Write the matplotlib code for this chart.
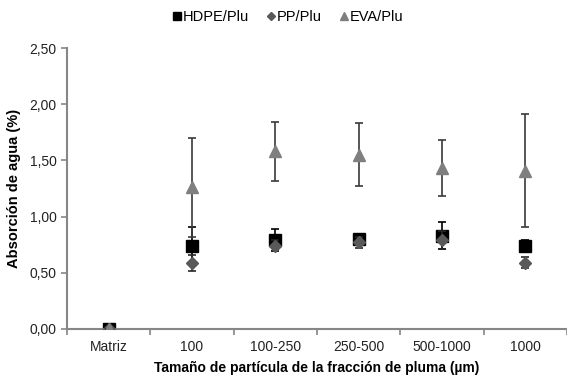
import matplotlib.pyplot as plt
import numpy as np

plt.rcParams['font.family'] = ['Liberation Sans', 'DejaVu Sans']

# Datos
categorias = ['Matriz', '100', '100-250', '250-500', '500-1000', '1000']
hdpe = [0.00, 0.74, 0.79, 0.80, 0.83, 0.74]
hdpe_err = [0.00, 0.17, 0.10, 0.03, 0.12, 0.05]
pp = [0.00, 0.59, 0.74, 0.77, 0.79, 0.59]
pp_err = [0.00, 0.07, 0.05, 0.05, 0.08, 0.05]
eva = [0.00, 1.26, 1.58, 1.55, 1.43, 1.41]
eva_err = [0.00, 0.44, 0.26, 0.28, 0.25, 0.50]

x = np.arange(len(categorias))

fig = plt.figure(figsize=(5.67, 3.76), dpi=100)
ax = fig.add_axes([67/567, 1 - 329/376, 500/567, (329 - 48)/376])

ax.errorbar(x, hdpe, yerr=hdpe_err, fmt='s', color='black', ecolor='black',
            elinewidth=1.2, capsize=3, capthick=1.2, markersize=8, label='HDPE/Plu', zorder=2)
ax.errorbar(x, pp, yerr=pp_err, fmt='D', color='#595959', ecolor='#262626',
            elinewidth=1.2, capsize=3, capthick=1.2, markersize=6, label='PP/Plu', zorder=3)
ax.errorbar(x, eva, yerr=eva_err, fmt='^', color='#7f7f7f', ecolor='#3a3a3a',
            elinewidth=1.2, capsize=3, capthick=1.2, markersize=9, label='EVA/Plu', zorder=4)

ax.set_xlim(-0.5, len(categorias) - 0.5)
ax.set_ylim(0, 2.5)
ax.set_yticks(np.arange(0, 2.51, 0.5))
ax.set_yticklabels([f'{v:.2f}'.replace('.', ',') for v in np.arange(0, 2.51, 0.5)])
ax.set_xticks(x)
ax.set_xticklabels(categorias)
ax.set_xticks(np.arange(-0.5, len(categorias), 1), minor=True)
ax.tick_params(axis='x', which='major', length=0, pad=8, labelsize=10, colors='#222222')
ax.tick_params(axis='x', which='minor', length=4, color='#868686', width=1.2)
ax.tick_params(axis='y', length=4, color='#868686', width=1.2, labelsize=10, colors='#222222')
for lbl in ax.get_yticklabels():
    lbl.set_color('#222222')

for s in ['top', 'right']:
    ax.spines[s].set_visible(False)
for s in ['left', 'bottom']:
    ax.spines[s].set_color('#868686')
    ax.spines[s].set_linewidth(1.5)

ax.set_xlabel('Tamaño de partícula de la fracción de pluma (µm)', fontsize=10,
              fontweight='bold', labelpad=5)
ax.set_ylabel('Absorción de agua (%)', fontsize=10.5, fontweight='bold', labelpad=6)

handles, labels = ax.get_legend_handles_labels()
leg = fig.legend([h[0] for h in handles], labels,
                 loc='center', bbox_to_anchor=(288/567, 1 - 17/376), ncol=3, frameon=False,
                 fontsize=10.5, handlelength=0.6, handletextpad=0.1, columnspacing=1.2,
                 markerscale=0.7)

fig.savefig('out.png', dpi=100)
